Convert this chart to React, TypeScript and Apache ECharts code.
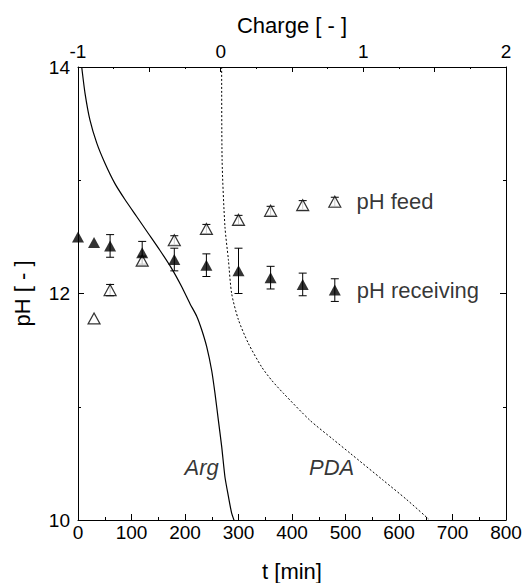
import React, { useEffect, useRef } from "react";
import * as echarts from "echarts";

// Time axis (bottom) data
const tReceiving = [0, 30, 60, 120, 180, 240, 300, 360, 420, 480];
const phReceiving = [12.5, 12.45, 12.42, 12.36, 12.3, 12.25, 12.2, 12.14, 12.08, 12.03];
const errReceiving = [0, 0, 0.1, 0.1, 0.1, 0.1, 0.2, 0.1, 0.1, 0.1];

const tFeed = [30, 60, 120, 180, 240, 300, 360, 420, 480];
const phFeed = [11.78, 12.03, 12.29, 12.47, 12.57, 12.65, 12.73, 12.78, 12.81];
const errFeed = [0, 0.05, 0.04, 0.04, 0.04, 0.04, 0.04, 0.04, 0.04];

// Charge (top axis) curves
const argCharge = [-0.974, -0.951, -0.916, -0.869, -0.811, -0.741, -0.671, -0.589, -0.507, -0.425, -0.343, -0.273, -0.215, -0.168, -0.133, -0.098, -0.063, -0.04, -0.016, 0.007, 0.03, 0.054, 0.077, 0.096];
const argPH = [14.0, 13.77, 13.53, 13.33, 13.15, 12.97, 12.83, 12.68, 12.53, 12.38, 12.22, 12.06, 11.91, 11.8, 11.68, 11.53, 11.32, 11.12, 10.88, 10.65, 10.38, 10.21, 10.06, 9.99];

const pdaCharge = [0.007, 0.01, 0.03, 0.054, 0.077, 0.124, 0.194, 0.288, 0.36, 0.439, 0.626, 0.79, 0.907, 1.14, 1.304, 1.456];
const pdaPH = [14.0, 13.18, 12.59, 12.3, 12.0, 11.77, 11.56, 11.35, 11.23, 11.12, 10.88, 10.71, 10.59, 10.35, 10.18, 10.01];

// Curve annotations [charge, pH, text]
const curveLabels: [number, number, string][] = [
  [-0.133, 10.46, "Arg"],
  [0.778, 10.46, "PDA"],
];

const seriesLabels = ["pH feed", "pH receiving"];

const FONT = "Liberation Sans, Arial, Helvetica, sans-serif";

function errorBarSeries(t: number[], ph: number[], err: number[]) {
  const data = t
    .map((x, i) => [x, ph[i] - err[i], ph[i] + err[i], err[i]])
    .filter((d) => d[3] > 0);
  return {
    type: "custom",
    xAxisIndex: 0,
    yAxisIndex: 0,
    silent: true,
    z: 1,
    encode: { x: 0, y: [1, 2] },
    data,
    renderItem: (params: any, api: any) => {
      const x = api.value(0);
      const lo = api.value(1);
      const hi = api.value(2);
      const p1 = api.coord([x, hi]);
      const p2 = api.coord([x, lo]);
      const w = 4;
      const st = { stroke: "#000", lineWidth: 1 };
      return {
        type: "group",
        children: [
          { type: "line", shape: { x1: p1[0], y1: p1[1], x2: p2[0], y2: p2[1] }, style: st },
          { type: "line", shape: { x1: p1[0] - w, y1: p1[1], x2: p1[0] + w, y2: p1[1] }, style: st },
          { type: "line", shape: { x1: p2[0] - w, y1: p2[1], x2: p2[0] + w, y2: p2[1] }, style: st },
        ],
      };
    },
  };
}

export default function App() {
  const ref = useRef<HTMLDivElement>(null);
  useEffect(() => {
    if (!ref.current) return;
    const chart = echarts.init(ref.current, undefined, { renderer: "svg" });
    const axisLine = { show: true, onZero: false, lineStyle: { color: "#000", width: 1 } };
    const label = { color: "#000", fontSize: 19, fontFamily: FONT };
    const nameStyle = { color: "#000", fontSize: 22, fontFamily: FONT };
    const lastIdxFeed = tFeed.length - 1;
    const lastIdxRec = tReceiving.length - 1;
    chart.setOption({
      animation: false,
      textStyle: { fontFamily: FONT, color: "#000" },
      grid: {
        left: 78,
        right: 20,
        top: 67,
        bottom: 63,
        containLabel: false,
        outerBoundsMode: "none",
      },
      xAxis: [
        {
          type: "value",
          position: "bottom",
          min: 0,
          max: 800,
          interval: 100,
          axisLine,
          axisTick: { show: true, inside: true, length: 6, lineStyle: { color: "#000" } },
          minorTick: { show: true, splitNumber: 2, length: 3, lineStyle: { color: "#000" } },
          splitLine: { show: false },
          axisLabel: { ...label, margin: 3, hideOverlap: false },
          name: "t [min]",
          nameLocation: "middle",
          nameGap: 40,
          nameTextStyle: nameStyle,
        },
        {
          type: "value",
          position: "top",
          min: -1,
          max: 2,
          interval: 0.5,
          axisLine,
          axisTick: { show: true, inside: true, length: 5, lineStyle: { color: "#000" } },
          minorTick: { show: true, splitNumber: 2, length: 2, lineStyle: { color: "#000" } },
          splitLine: { show: false },
          axisLabel: {
            ...label,
            margin: 6,
            formatter: (v: number) => (Number.isInteger(v) ? String(v) : ""),
          },
          name: "Charge [ - ]",
          nameLocation: "middle",
          nameGap: 31,
          nameTextStyle: nameStyle,
        },
      ],
      yAxis: [
        {
          type: "value",
          position: "left",
          min: 10,
          max: 14,
          interval: 2,
          axisLine,
          axisTick: { show: true, inside: true, length: 6, lineStyle: { color: "#000" } },
          minorTick: { show: true, splitNumber: 2, length: 3, lineStyle: { color: "#000" } },
          splitLine: { show: false },
          axisLabel: { ...label, margin: 8, verticalAlign: "middle", hideOverlap: false },
          name: "pH [ - ]",
          nameLocation: "middle",
          nameGap: 45,
          nameTextStyle: nameStyle,
        },
        {
          type: "value",
          position: "right",
          min: 10,
          max: 14,
          interval: 2,
          axisLine,
          axisTick: { show: true, inside: true, length: 6, lineStyle: { color: "#000" } },
          minorTick: { show: true, splitNumber: 2, length: 3, lineStyle: { color: "#000" } },
          splitLine: { show: false },
          axisLabel: { show: false },
        },
      ],
      series: [
        {
          type: "line",
          name: "Arg",
          xAxisIndex: 1,
          yAxisIndex: 0,
          data: argCharge.map((c, i) => [c, argPH[i]]),
          showSymbol: false,
          smooth: 0.2,
          silent: true,
          lineStyle: { color: "#000", width: 1.2, type: "solid" },
          z: 2,
        },
        {
          type: "line",
          name: "PDA",
          xAxisIndex: 1,
          yAxisIndex: 0,
          data: pdaCharge.map((c, i) => [c, pdaPH[i]]),
          showSymbol: false,
          smooth: 0.25,
          silent: true,
          lineStyle: { color: "#000", width: 1, type: [2, 2] },
          z: 2,
        },
        errorBarSeries(tFeed, phFeed, errFeed),
        errorBarSeries(tReceiving, phReceiving, errReceiving),
        {
          type: "scatter",
          name: seriesLabels[0],
          xAxisIndex: 0,
          yAxisIndex: 0,
          symbol: "triangle",
          symbolSize: [12, 11],
          itemStyle: { color: "#fff", borderColor: "#000", borderWidth: 1.2 },
          data: tFeed.map((t, i) =>
            i === lastIdxFeed
              ? {
                  value: [t, phFeed[i]],
                  label: {
                    show: true,
                    position: "right",
                    distance: 15,
                    formatter: seriesLabels[0],
                    fontSize: 22,
                    color: "#000",
                    fontFamily: FONT,
                  },
                }
              : [t, phFeed[i]]
          ),
          z: 5,
        },
        {
          type: "scatter",
          name: seriesLabels[1],
          xAxisIndex: 0,
          yAxisIndex: 0,
          symbol: "triangle",
          symbolSize: [12, 11],
          itemStyle: { color: "#000" },
          data: tReceiving.map((t, i) =>
            i === lastIdxRec
              ? {
                  value: [t, phReceiving[i]],
                  label: {
                    show: true,
                    position: "right",
                    distance: 16,
                    formatter: seriesLabels[1],
                    fontSize: 22,
                    color: "#000",
                    fontFamily: FONT,
                  },
                }
              : [t, phReceiving[i]]
          ),
          z: 6,
        },
        {
          type: "scatter",
          xAxisIndex: 1,
          yAxisIndex: 0,
          symbolSize: 0,
          silent: true,
          data: curveLabels.map((d) => [d[0], d[1], d[2]]),
          label: {
            show: true,
            position: "inside",
            formatter: (p: any) => p.value[2],
            fontSize: 22,
            fontStyle: "italic",
            color: "#000",
            fontFamily: FONT,
          },
          z: 7,
        },
      ],
    });
    return () => chart.dispose();
  }, []);
  return (
    <div
      ref={ref}
      style={{ position: "fixed", left: 0, top: 0, width: 526, height: 583, background: "#fff" }}
    />
  );
}
